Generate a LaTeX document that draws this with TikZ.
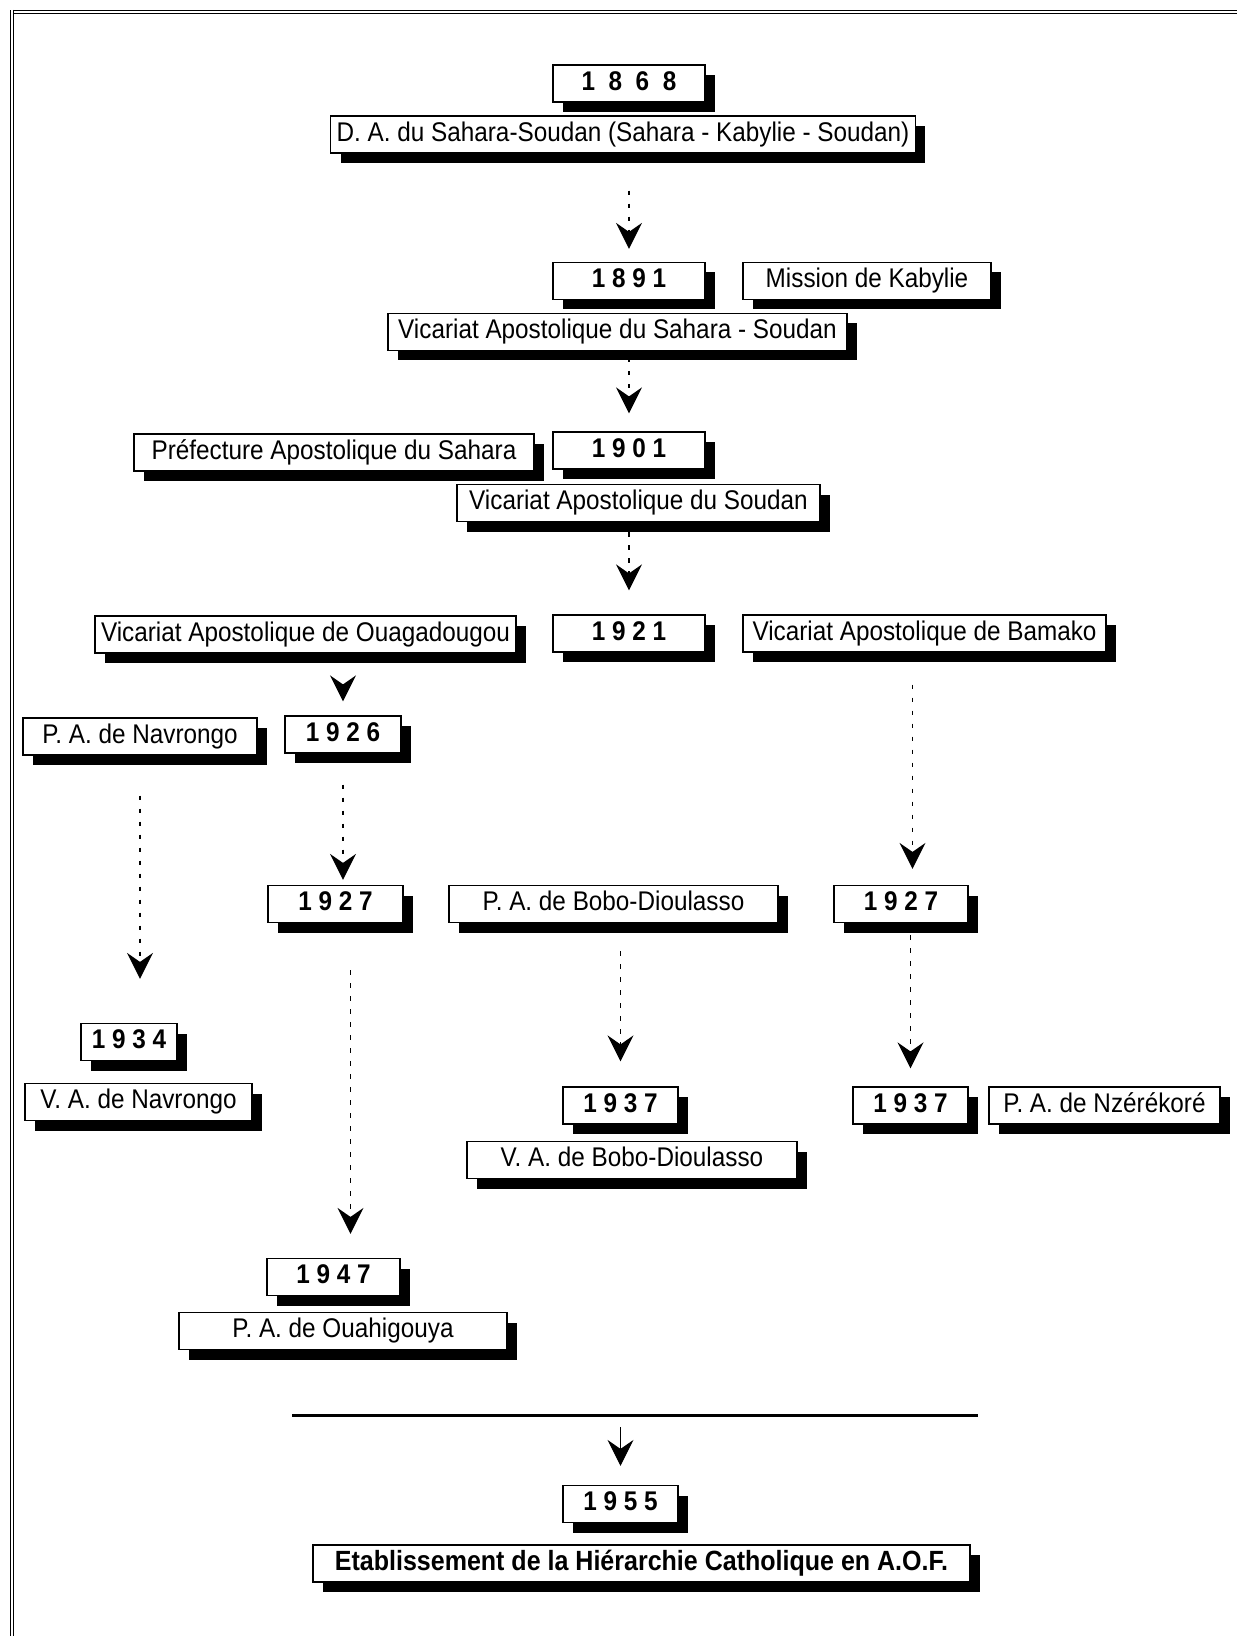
\documentclass[tikz,border=0pt]{standalone}
\usepackage{fontspec}
\setmainfont{Liberation Sans}[FakeStretch=0.9]
\usetikzlibrary{arrows.meta,shadows}

\begin{document}
\begin{tikzpicture}[
    x=0.5pt, y=-0.5pt,
    >={Stealth[length=13pt,width=13pt,inset=4.5pt]},
    caja/.style={
      draw, fill=white, line width=.6pt,
      inner xsep=3pt, inner ysep=0pt,
      minimum height=18.5pt, text height=9.7pt, text depth=2.8pt,
      font=\fontsize{13.5}{16}\selectfont,
      drop shadow={shadow xshift=5pt, shadow yshift=-5pt, fill=black, opacity=1}
      },
    anio/.style={caja, font=\fontsize{13.5}{16}\selectfont\bfseries},
    ancho/.style={minimum width=#1*0.5pt},
    flecha/.style={->, line width=.75pt, dash pattern=on 2.2pt off 4.3pt},
    solopunta/.style={->, line width=.75pt, dash pattern=on 0pt off 40pt},
    marco/.style={double, double distance=.6pt, line width=.9pt}
  ]
    \useasboundingbox (0,0) rectangle (1236,1636);
    \draw[marco] (10,12) -- (1240,12);
    \draw[marco] (12,10) -- (12,1640);

    \node[anio, ancho=152] (y1868) at (629,83.5) {1~~8~~6~~8};
    \node[caja, ancho=582] (da) at (623,134.5) {D. A. du Sahara-Soudan (Sahara - Kabylie - Soudan)};
    \node[anio, ancho=152] (y1891) at (629,281) {1 8 9 1};
    \node[caja, ancho=248] (kab) at (867,281) {Mission de Kabylie};
    \node[caja, ancho=459] (vass) at (617.5,332) {Vicariat Apostolique du Sahara - Soudan};
    \node[caja, ancho=400] (pas) at (334,452.5) {Préfecture Apostolique du Sahara};
    \node[anio, ancho=152] (y1901) at (629,450.5) {1 9 0 1};
    \node[caja, ancho=363] (vas) at (638.5,503) {Vicariat Apostolique du Soudan};
    \node[caja, ancho=419] (vao) at (305.5,634.5) {Vicariat Apostolique de Ouagadougou};
    \node[anio, ancho=152] (y1921) at (629,633.5) {1 9 2 1};
    \node[caja, ancho=363] (vab) at (924.5,633.5) {Vicariat Apostolique de Bamako};
    \node[caja, ancho=234] (pan) at (140,736.5) {P. A. de Navrongo};
    \node[anio, ancho=116] (y1926) at (343,734.5) {1 9 2 6};
    \node[anio, ancho=135] (y1927a) at (335.5,904) {1 9 2 7};
    \node[caja, ancho=329] (pab) at (613.5,904) {P. A. de Bobo-Dioulasso};
    \node[anio, ancho=134] (y1927c) at (901,904) {1 9 2 7};
    \node[anio, ancho=96] (y1934) at (129,1042) {1 9 3 4};
    \node[caja, ancho=227] (van) at (138.5,1102) {V. A. de Navrongo};
    \node[anio, ancho=115] (y1937b) at (620.5,1105.5) {1 9 3 7};
    \node[caja, ancho=330] (vabd) at (632,1160) {V. A. de Bobo-Dioulasso};
    \node[anio, ancho=115] (y1937c) at (910.5,1105.5) {1 9 3 7};
    \node[caja, ancho=231] (pnz) at (1104.5,1105.5) {P. A. de Nzérékoré};
    \node[anio, ancho=133] (y1947) at (333.5,1277) {1 9 4 7};
    \node[caja, ancho=328] (pao) at (343,1331) {P. A. de Ouahigouya};
    \node[anio, ancho=115] (y1955) at (620.5,1504) {1 9 5 5};
    \node[anio, ancho=657, font=\fontsize{13.9}{16}\selectfont\bfseries] (hier) at (641.5,1563.5) {Etablissement de la Hiérarchie Catholique en A.O.F.};

    \coordinate (c1) at ([xshift=7.5pt]y1927a.south);
    \coordinate (c2) at ([xshift=-6pt]vab.south);
    \coordinate (barL) at (292,1415);
    \coordinate (barR) at (978,1415);

    \draw[flecha, shorten <=18.5pt, shorten >=6.5pt] (y1891.north |- da.south) -- (y1891.north);
    \draw[flecha, shorten <=3.5pt, shorten >=9pt] (y1901.north |- vass.south) -- (y1901.north);
    \draw[flecha, shorten <=5pt, shorten >=12pt] (y1921.north |- vas.south) -- (y1921.north);
    \draw[solopunta, shorten <=11pt, shorten >=7pt] (y1926.north |- vao.south) -- (y1926.north);
    \draw[flecha, shorten <=20pt, shorten >=22pt] (pan.south) -- (pan.south |- y1934.north);
    \draw[flecha, shorten <=15.5pt, shorten >=2.5pt] (y1926.south) -- (y1926.south |- y1927a.north);
    \draw[flecha, shorten <=23.5pt, shorten >=12pt] (c1) -- (c1 |- y1947.north);
    \draw[flecha, shorten <=16pt, shorten >=8pt] (c2) -- (c2 |- y1927c.north);
    \draw[flecha, shorten <=14pt, shorten >=12.5pt] (y1937b.north |- pab.south) -- (y1937b.north);
    \draw[flecha, shorten <=6pt, shorten >=9pt] (y1937c.north |- y1927c.south) -- (y1937c.north);
    \draw[line width=1.5pt] (barL) -- (barR);
    \draw[->, line width=.5pt, shorten <=6pt, shorten >=9.5pt] (y1955.north |- barL) -- (y1955.north);
\end{tikzpicture}
\end{document}
